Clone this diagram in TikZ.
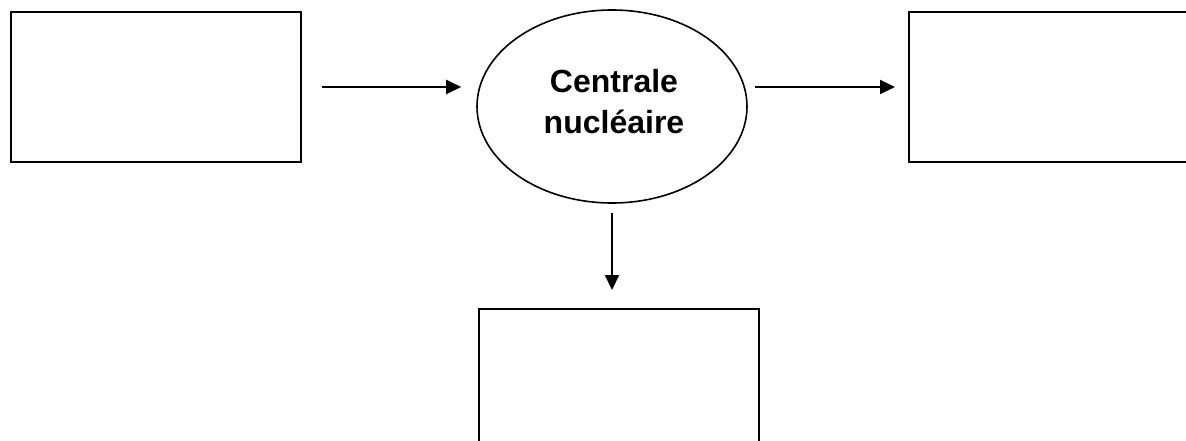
\documentclass[tikz,border=0pt]{standalone}
\usepackage{fontspec}
\setmainfont{Liberation Sans}
\usetikzlibrary{arrows.meta,shapes.geometric}
\begin{document}
\begin{tikzpicture}[x=1pt,y=-1pt,
  emptybox/.style={draw,line width=2pt,rectangle,inner sep=0pt,anchor=north west},
  flow/.style={line width=2.1pt,-{Triangle[length=15pt,width=14pt]}}]
\useasboundingbox (0,0) rectangle (1186,441);
\clip (0,0) rectangle (1186,441);
\node[emptybox,minimum width=290pt,minimum height=150pt] (src) at (10,11) {};
\node[emptybox,minimum width=290pt,minimum height=150pt] (out) at (908,11) {};
\node[emptybox,minimum width=280pt,minimum height=150pt] (waste) at (478,308) {};
\node[draw,ellipse,line width=1.6pt,minimum width=270pt,minimum height=193pt,inner sep=0pt] (plant) at (612,106.5) {};
\node[font=\bfseries\fontsize{32}{41}\selectfont,align=center,inner sep=0pt,anchor=base] (plantlabel) at (614,134) {Centrale\\nucléaire};
\draw[flow,shorten <=20pt,shorten >=15pt] (src.east |- 0,87) -- (plant.west |- 0,87);
\draw[flow,shorten <=7pt,shorten >=13pt] (plant.east |- 0,87) -- (out.west |- 0,87);
\draw[flow,shorten <=9pt,shorten >=18pt] (plant.south) -- (waste.north -| plant.south);
\end{tikzpicture}
\end{document}
